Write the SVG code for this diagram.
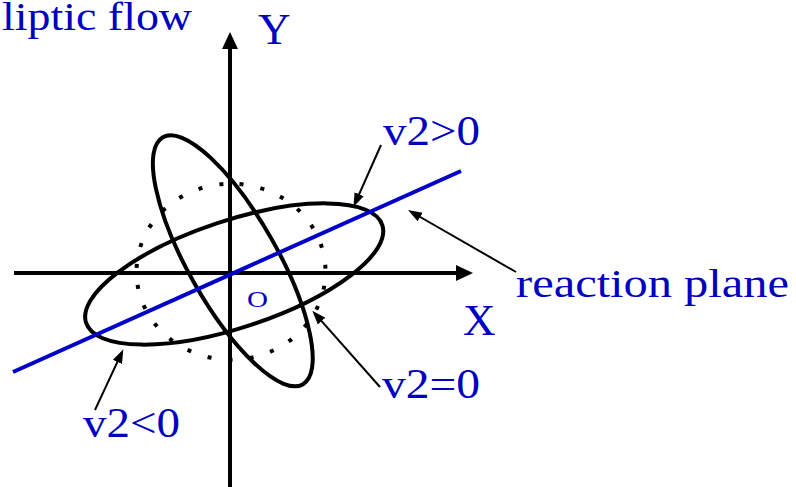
<svg xmlns="http://www.w3.org/2000/svg" width="796" height="487" viewBox="0 0 796 487">
<defs>
<style>
.lbl{fill:#0000c0;font-family:"Liberation Serif","Times New Roman",serif}
.ell{fill:none;stroke:#000;stroke-width:4}
.axis{stroke:#000;stroke-width:4;fill:none}
.ptr{stroke:#000;stroke-width:2;fill:none;marker-end:url(#ah)}
</style>
<marker id="ah" markerUnits="userSpaceOnUse" markerWidth="16" markerHeight="12" refX="8" refY="5" orient="auto" viewBox="0 0 16 10">
<path d="M0,0 L14,5 L0,10 z" fill="#000"/>
</marker>
<marker id="axh" markerUnits="userSpaceOnUse" markerWidth="18" markerHeight="16" refX="9" refY="8" orient="auto" viewBox="0 0 18 16">
<path d="M0,0 L17,8 L0,16 z" fill="#000"/>
</marker>
</defs>
<rect width="796" height="487" fill="#fff"/>

<g id="circle-v2-0">
<path d="M231 183.7 A94.5 88 0 1 1 231 359.7 A94.5 88 0 1 1 231 183.7" fill="none" stroke="#000" stroke-width="4" stroke-dasharray="4 17.24" stroke-dashoffset="-8.6"/>
</g>
<g id="ellipse-v2-pos">
<ellipse class="ell" cx="234.2" cy="274" rx="156" ry="53.6" transform="rotate(-18.3 234.2 274)"/>
</g>
<g id="ellipse-v2-neg">
<ellipse class="ell" cx="232.8" cy="260.8" rx="142" ry="44.5" transform="rotate(60.5 232.8 260.8)"/>
</g>

<g id="axes">
<line class="axis" x1="230" y1="487" x2="230" y2="40" marker-end="url(#axh)"/>
<line class="axis" x1="14" y1="273" x2="465" y2="273" marker-end="url(#axh)"/>
</g>

<g id="reaction-plane-line">
<line x1="13" y1="372" x2="461" y2="171" stroke="#0000c8" stroke-width="4"/>
</g>

<g id="connectors">
<line class="ptr" x1="381" y1="145" x2="355.9" y2="201.5"/>
<line class="ptr" x1="516" y1="272" x2="413.2" y2="213"/>
<line class="ptr" x1="380" y1="387" x2="316.3" y2="315.2"/>
<line class="ptr" x1="95" y1="410" x2="120.8" y2="354.7"/>
</g>

<g id="labels">
<text class="lbl" x="2" y="29.5" font-size="40" textLength="190" lengthAdjust="spacingAndGlyphs">liptic flow</text>
<text class="lbl" x="258" y="43.5" font-size="45">Y</text>
<text class="lbl" x="463" y="335" font-size="45">X</text>
<text class="lbl" x="516" y="297" font-size="40" textLength="273" lengthAdjust="spacingAndGlyphs">reaction plane</text>
<text class="lbl" x="383" y="145" font-size="42" textLength="97" lengthAdjust="spacingAndGlyphs">v2&gt;0</text>
<text class="lbl" x="382" y="398" font-size="42" textLength="98" lengthAdjust="spacingAndGlyphs">v2=0</text>
<text class="lbl" x="83" y="436.5" font-size="42" textLength="97" lengthAdjust="spacingAndGlyphs">v2&lt;0</text>
<text class="lbl" x="247" y="306.5" font-size="23" textLength="21" lengthAdjust="spacingAndGlyphs">O</text>
</g>
</svg>
